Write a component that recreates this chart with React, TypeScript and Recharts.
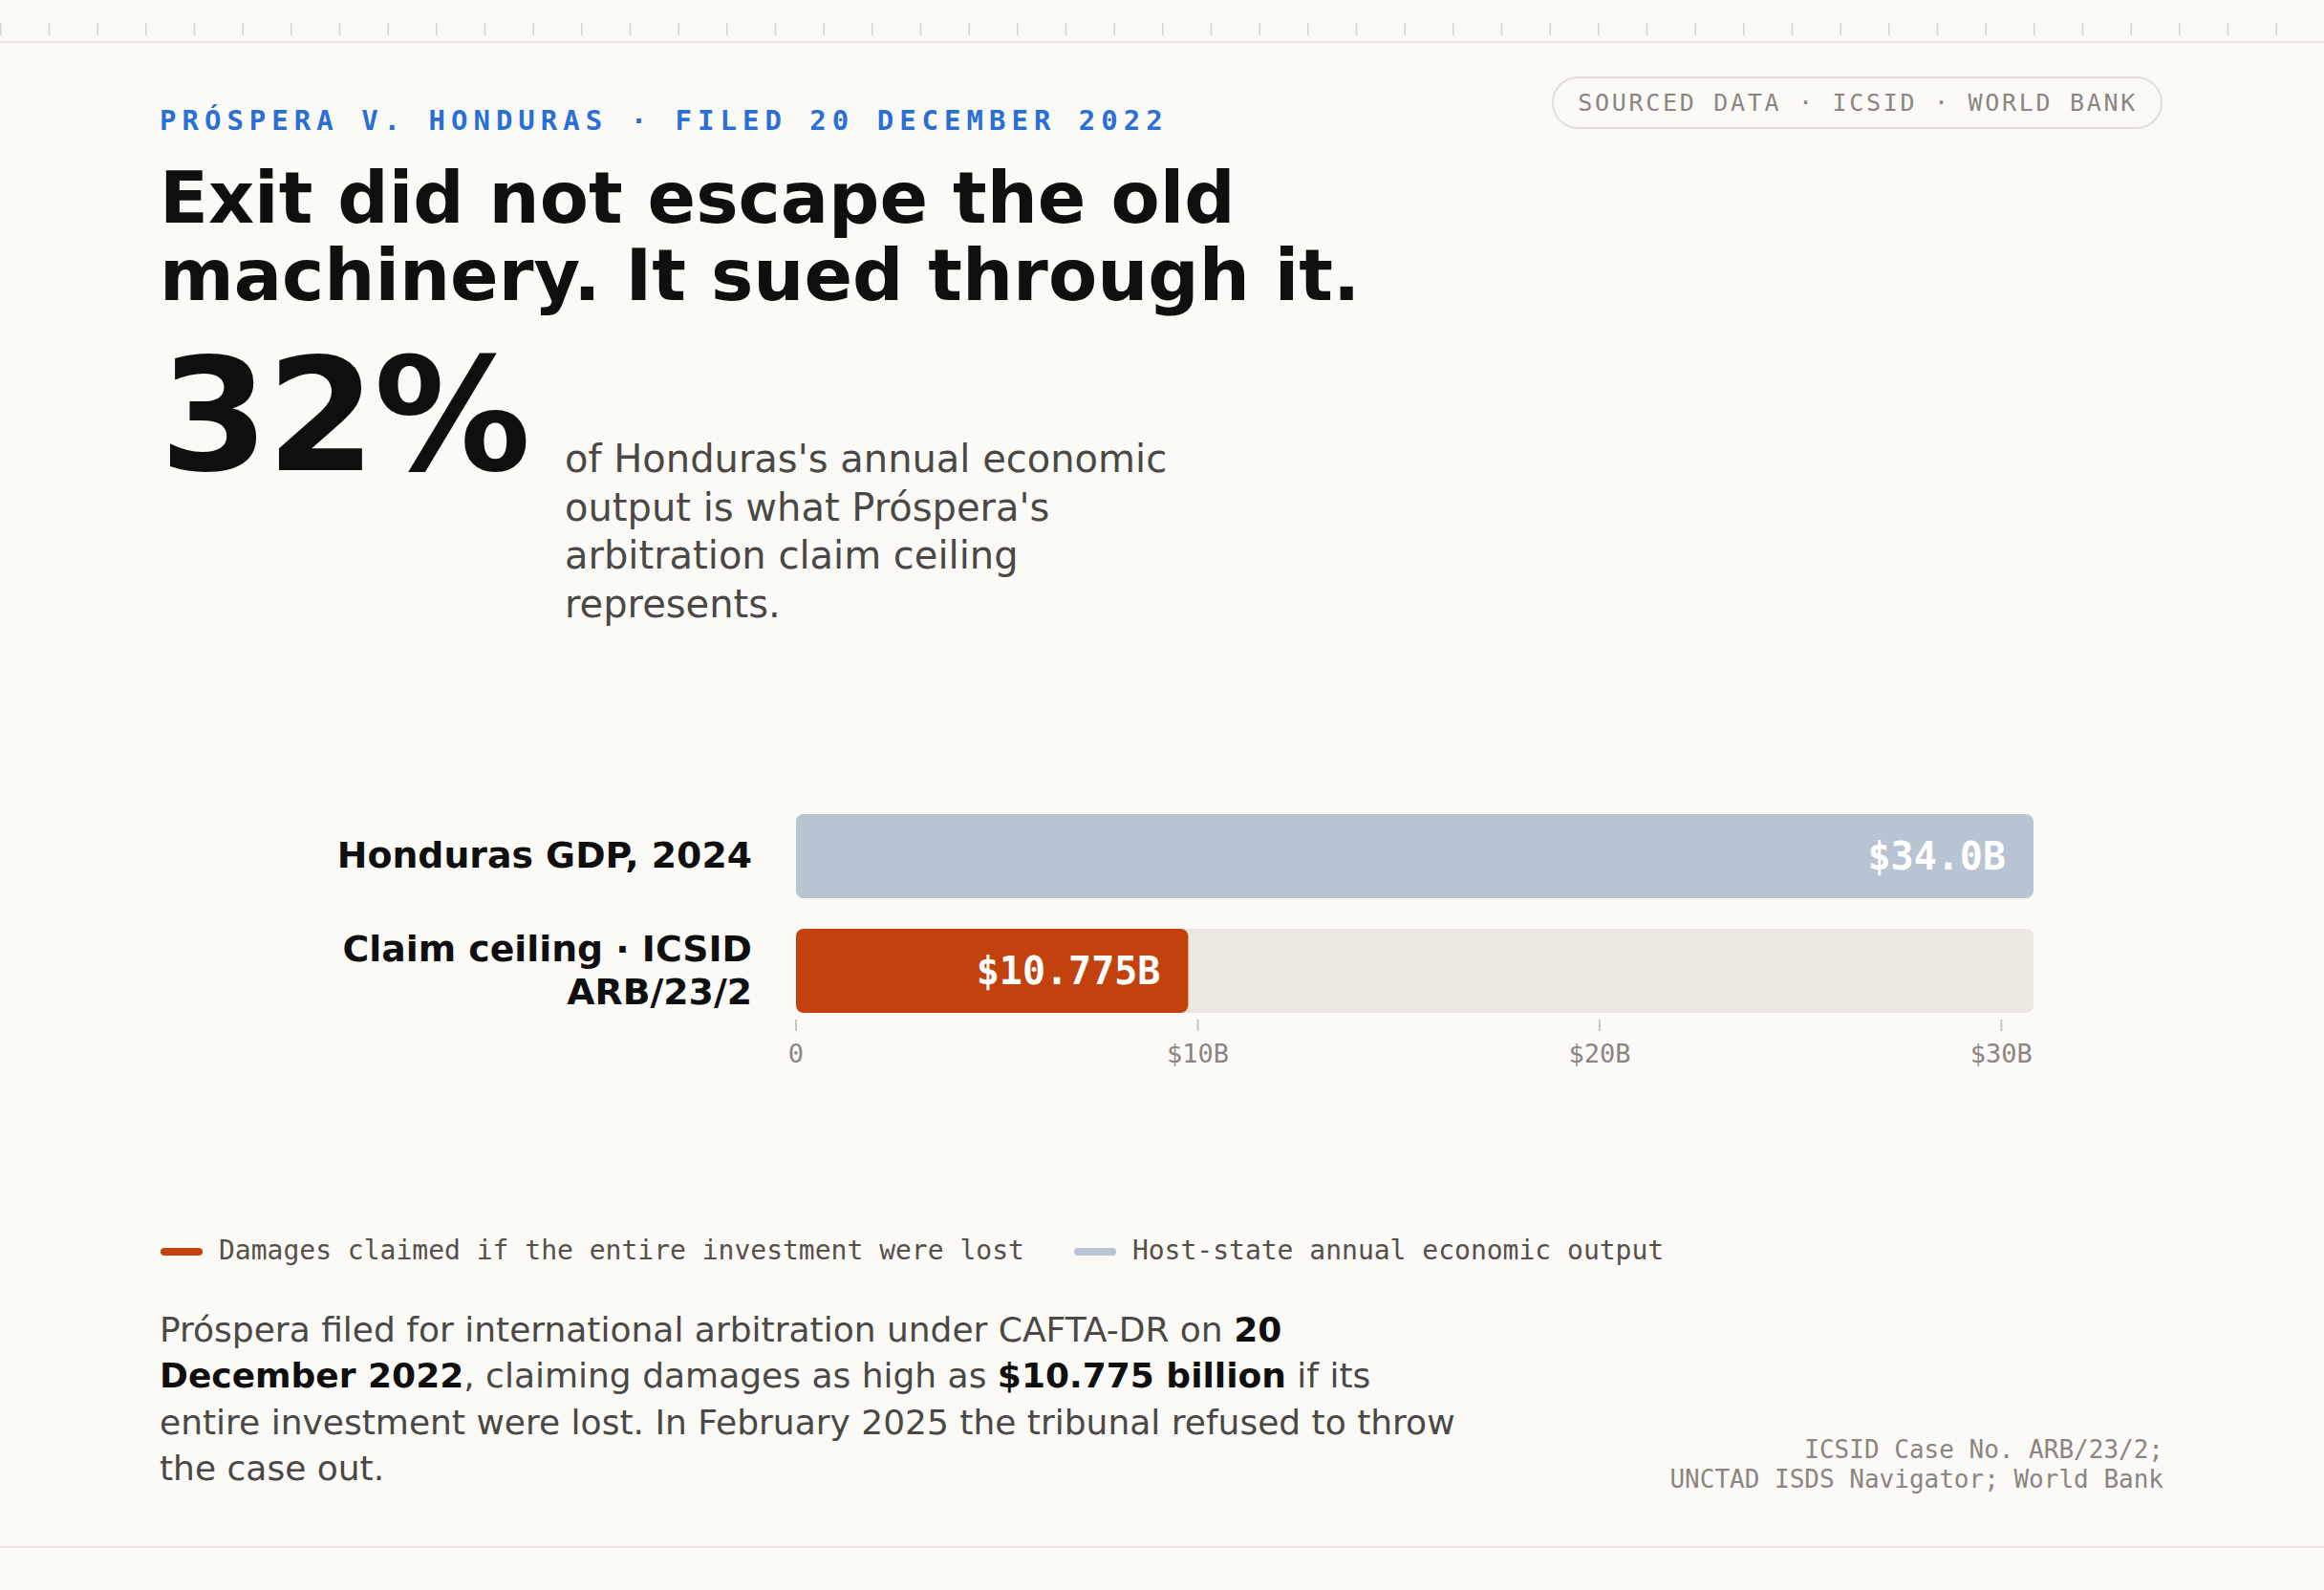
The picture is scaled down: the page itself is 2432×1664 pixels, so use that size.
import React from 'react';
import { BarChart, Bar, XAxis, YAxis, Cell, LabelList } from 'recharts';

// ---------- data ----------
const categories = ['Honduras GDP, 2024', 'Claim ceiling · ICSID ARB/23/2'];
const categoryLines = [['Honduras GDP, 2024'], ['Claim ceiling · ICSID', 'ARB/23/2']];
const values = [34.0, 10.775];
const valueLabels = ['$34.0B', '$10.775B'];
const valueDomain = [0, 34];
const tickValues = [0, 10, 20, 30];
const tickLabels = ['0', '$10B', '$20B', '$30B'];
const tickDomain = [0, 30.8];
const legendLabels = ['Damages claimed if the entire investment were lost', 'Host-state annual economic output'];

// ---------- styles ----------
const SANS = '"DejaVu Sans", "Noto Sans", sans-serif';
const MONO = '"DejaVu Sans Mono", "Liberation Mono", monospace';
const BG = '#fbfaf7';
const BAR_COLORS = ['#b8c4d2', '#c2410c'];
const LEGEND_COLORS = ['#c2410c', '#b8c4d2'];
const TRACK = '#ebe8e1';
const MUTED = '#8a867f';
const INK = '#0f0f0f';
const BODY = '#4a4845';
const LEFT = 167;

const data = categories.map((name, i) => ({ name, value: values[i], label: valueLabels[i] }));

const YTick = (props: any) => {
  const { x, y, payload } = props;
  const idx = categories.indexOf(payload.value);
  const lines = idx >= 0 ? categoryLines[idx] : [String(payload.value)];
  const lh = 45;
  const start = y - ((lines.length - 1) * lh) / 2 - 1;
  return (
    <g>
      {lines.map((l, i) => (
        <text
          key={i}
          x={x}
          y={start + i * lh}
          textAnchor="end"
          dominantBaseline="central"
          fontFamily={SANS}
          fontWeight={700}
          fontSize={37.8}
          fill={INK}
        >
          {l}
        </text>
      ))}
    </g>
  );
};

const XTick = (props: any) => {
  const { x, y, payload } = props;
  const idx = tickValues.indexOf(payload.value);
  return (
    <g>
      <line x1={x} x2={x} y1={y - 9} y2={y + 3} stroke="#c9c6bd" strokeWidth={2} />
      <text x={x} y={y + 35.5} textAnchor="middle" fontFamily={MONO} fontSize={27} fill={MUTED}>
        {idx >= 0 ? tickLabels[idx] : String(payload.value)}
      </text>
    </g>
  );
};

const ValueLabel = (props: any) => {
  const { x, y, width, height, value } = props;
  return (
    <text
      x={Number(x) + Number(width) - 29}
      y={Number(y) + Number(height) / 2}
      textAnchor="end"
      dominantBaseline="central"
      fontFamily={MONO}
      fontWeight={700}
      fontSize={40}
      fill="#ffffff"
    >
      {value}
    </text>
  );
};

export default function App() {
  const rulerTicks = Array.from({ length: 48 }, (_, i) => i);
  return (
    <div
      style={{
        position: 'absolute',
        left: 0,
        top: 0,
        width: 2432,
        height: 1664,
        background: BG,
        overflow: 'hidden',
      }}
    >
      {/* ruler */}
      <svg width={2432} height={50} style={{ position: 'absolute', left: 0, top: 0 }}>
        {rulerTicks.map((i) => (
          <rect key={i} x={(i * 2432) / 48} y={24} width={1.6} height={13} fill="#d9d6cb" />
        ))}
        <rect x={0} y={43} width={2432} height={2} fill="#e7e5dd" />
      </svg>

      {/* kicker */}
      <div
        style={{
          position: 'absolute',
          left: LEFT,
          top: 111.5,
          fontFamily: MONO,
          fontWeight: 700,
          fontSize: 29,
          letterSpacing: 6.0,
          lineHeight: 1,
          color: '#2a6fd4',
          whiteSpace: 'nowrap',
        }}
      >
        PRÓSPERA V. HONDURAS · FILED 20 DECEMBER 2022
      </div>

      {/* pill */}
      <div
        style={{
          position: 'absolute',
          right: 169,
          top: 80,
          height: 55,
          boxSizing: 'border-box',
          border: '2px solid #e2e0d8',
          borderRadius: 28,
          padding: '0 24px 0 25.5px',
          display: 'flex',
          alignItems: 'center',
          fontFamily: MONO,
          fontSize: 25,
          letterSpacing: 2.7,
          color: MUTED,
          whiteSpace: 'nowrap',
          lineHeight: 1,
        }}
      >
        SOURCED DATA · ICSID · WORLD BANK
      </div>

      {/* title */}
      <div
        style={{
          position: 'absolute',
          left: LEFT,
          top: 167,
          fontFamily: SANS,
          fontWeight: 700,
          fontSize: 74.6,
          lineHeight: '81px',
          color: INK,
          whiteSpace: 'nowrap',
        }}
      >
        Exit did not escape the old
        <br />
        machinery. It sued through it.
      </div>

      {/* big number */}
      <div
        style={{
          position: 'absolute',
          left: LEFT,
          top: 354.3,
          fontFamily: SANS,
          fontWeight: 700,
          fontSize: 164,
          letterSpacing: -2,
          lineHeight: 1,
          color: INK,
          whiteSpace: 'nowrap',
        }}
      >
        32%
      </div>
      <div
        style={{
          position: 'absolute',
          left: 591,
          top: 455,
          fontFamily: SANS,
          fontSize: 40,
          lineHeight: '50.6px',
          color: BODY,
          whiteSpace: 'nowrap',
        }}
      >
        of Honduras's annual economic
        <br />
        output is what Próspera's
        <br />
        arbitration claim ceiling
        <br />
        represents.
      </div>

      {/* chart */}
      <div style={{ position: 'absolute', left: 0, top: 800 }}>
        <BarChart
          width={2432}
          height={330}
          data={data}
          layout="vertical"
          margin={{ top: 36, right: 304, bottom: 0, left: 0 }}
        >
          <XAxis xAxisId="v" type="number" domain={valueDomain} hide allowDataOverflow />
          <XAxis
            xAxisId="t"
            type="number"
            domain={tickDomain}
            ticks={tickValues}
            allowDataOverflow
            axisLine={false}
            tickLine={false}
            tickSize={0}
            tickMargin={0}
            height={54}
            interval={0}
            tick={<XTick />}
          />
          <YAxis
            type="category"
            dataKey="name"
            width={833}
            axisLine={false}
            tickLine={false}
            tickSize={0}
            tickMargin={46}
            interval={0}
            tick={<YTick />}
          />
          <Bar
            dataKey="value"
            xAxisId="v"
            barSize={88}
            radius={8}
            background={{ fill: TRACK, radius: 8 }}
            isAnimationActive={false}
          >
            {data.map((_, i) => (
              <Cell key={i} fill={BAR_COLORS[i]} />
            ))}
            <LabelList dataKey="label" content={<ValueLabel />} />
          </Bar>
        </BarChart>
      </div>

      {/* legend */}
      <div
        style={{
          position: 'absolute',
          left: 168,
          top: 1294.5,
          display: 'flex',
          alignItems: 'flex-start',
          fontFamily: MONO,
          fontSize: 28,
          lineHeight: '28px',
          color: '#555049',
          whiteSpace: 'nowrap',
        }}
      >
        {legendLabels.map((l, i) => (
          <div key={i} style={{ display: 'flex', alignItems: 'flex-start', marginRight: 52 }}>
            <div
              style={{
                width: 44,
                height: 8,
                borderRadius: 4,
                background: LEGEND_COLORS[i],
                marginTop: 11.5,
                marginRight: 17,
              }}
            />
            <span>{l}</span>
          </div>
        ))}
      </div>

      {/* footnote */}
      <div
        style={{
          position: 'absolute',
          left: LEFT,
          top: 1367.5,
          fontFamily: SANS,
          fontSize: 36,
          lineHeight: '48.6px',
          color: BODY,
          whiteSpace: 'nowrap',
        }}
      >
        Próspera filed for international arbitration under CAFTA-DR on <b style={{ color: INK }}>20</b>
        <br />
        <b style={{ color: INK }}>December 2022</b>, claiming damages as high as{' '}
        <b style={{ color: INK }}>$10.775 billion</b> if its
        <br />
        entire investment were lost. In February 2025 the tribunal refused to throw
        <br />
        the case out.
      </div>

      {/* sources */}
      <div
        style={{
          position: 'absolute',
          right: 168,
          top: 1501.5,
          fontFamily: MONO,
          fontSize: 26,
          lineHeight: '31px',
          color: MUTED,
          textAlign: 'right',
          whiteSpace: 'nowrap',
        }}
      >
        ICSID Case No. ARB/23/2;
        <br />
        UNCTAD ISDS Navigator; World Bank
      </div>

      {/* bottom rule */}
      <div style={{ position: 'absolute', left: 0, top: 1618, width: 2432, height: 2, background: '#e7e5dd' }} />
    </div>
  );
}
